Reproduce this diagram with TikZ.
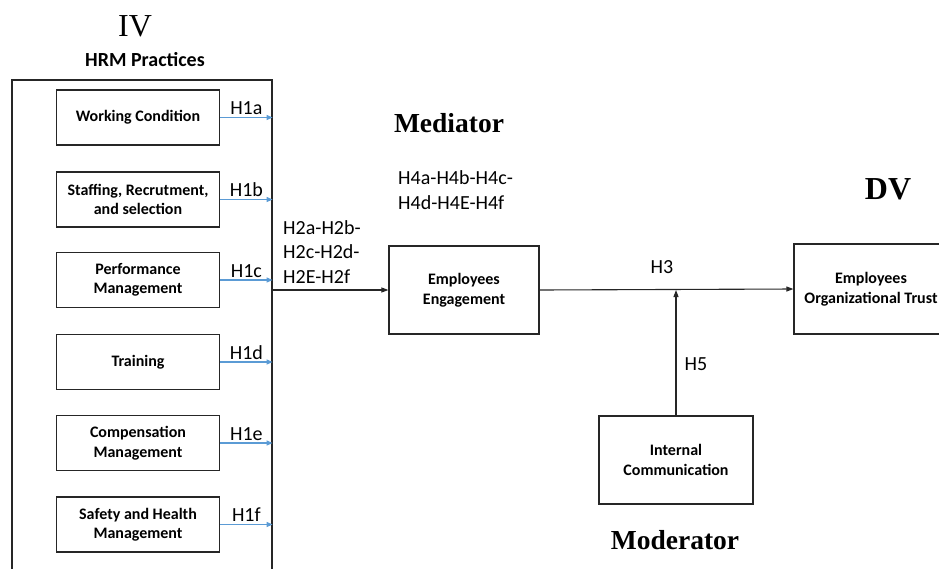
\documentclass[tikz,border=0pt]{standalone}
\usepackage{fontspec}
\setmainfont{Liberation Serif}
\setsansfont{Carlito}
\usepackage{tikz}
\usetikzlibrary{arrows.meta,calc}
\definecolor{arrowblue}{HTML}{5B9BD5}
\newcommand\boxfont{\sffamily\bfseries\fontsize{16}{19.5}\selectfont}
\newcommand\hfont{\sffamily\fontsize{20}{24.5}\selectfont}
\newcommand\titlefont{\rmfamily\bfseries\fontsize{27.5}{30}\selectfont}

\begin{document}
\begin{tikzpicture}[x=1pt,y=-1pt,
  boxnode/.style={draw=black!85,line width=1.2pt,inner sep=0pt,align=center,font=\boxfont},
  hlabel/.style={font=\hfont,inner sep=2pt},
  bluearrow/.style={draw=arrowblue,line width=1.1pt,-{Triangle[length=6pt,width=5pt]}},
  blackarrow/.style={draw=black!85,line width=1.1pt,-{Triangle[length=7pt,width=5pt]}}]
\useasboundingbox (0,0) rectangle (939,568);
\node[font=\rmfamily\fontsize{32}{34}\selectfont] (iv) at (135,26) {IV};
\node[font=\sffamily\bfseries\fontsize{20}{24}\selectfont] (hrmtitle) at (145,60) {HRM Practices};
\node[boxnode,minimum width=260,minimum height=515] (hrm) at (142,337.5) {};
\node[boxnode,minimum width=163,minimum height=55] (wc) at (138,117.5) {Working Condition};
\node[boxnode,minimum width=163,minimum height=55] (staff) at (138,199.5) {Staffing, Recrutment,\\and selection};
\node[boxnode,minimum width=163,minimum height=55] (perf) at (138,280) {Performance\\Management};
\node[boxnode,minimum width=163,minimum height=55] (train) at (138,362) {Training};
\node[boxnode,minimum width=163,minimum height=55] (comp) at (138,443) {Compensation\\Management};
\node[boxnode,minimum width=163,minimum height=55] (safe) at (138,524.5) {Safety and Health\\Management};
\draw[bluearrow] (wc.east) -- node[hlabel,above] {H1a} (wc.east -| hrm.east);
\draw[bluearrow] (staff.east) -- node[hlabel,above] {H1b} (staff.east -| hrm.east);
\draw[bluearrow] (perf.east) -- node[hlabel,above] {H1c} (perf.east -| hrm.east);
\draw[bluearrow] (train.east) -- node[hlabel,above] {H1d} (train.east -| hrm.east);
\draw[bluearrow] (comp.east) -- node[hlabel,above] {H1e} (comp.east -| hrm.east);
\draw[bluearrow] (safe.east) -- node[hlabel,above] {H1f} (safe.east -| hrm.east);

\node[font=\titlefont] (med) at (449,123) {Mediator};
\node[hlabel,anchor=west,align=left,inner sep=0pt] (h4) at (398,190) {H4a-H4b-H4c-\\H4d-H4E-H4f};
\node[boxnode,minimum width=150,minimum height=88] (eng) at (464,290) {Employees\\Engagement};
\node[hlabel,anchor=west,align=left,inner sep=0pt] (h2) at (283,252) {H2a-H2b-\\H2c-H2d-\\H2E-H2f};
\draw[blackarrow] (eng.west -| hrm.east) -- (eng.west);

\node[font=\rmfamily\bfseries\fontsize{32}{34}\selectfont] (dv) at (888,189) {DV};
\node[boxnode,minimum width=154,minimum height=90] (trust) at (871,289) {Employees\\Organizational Trust};
\draw[blackarrow] (eng.east) -- (trust.west);
\node[hlabel] (h3) at (662,267) {H3};

\node[boxnode,minimum width=154,minimum height=88] (ic) at (676,460) {Internal\\Communication};
\draw[blackarrow] (ic.north) -- (ic.north |- eng.east);
\node[hlabel] (h5) at (696,364) {H5};
\node[font=\titlefont] (mod) at (675,540) {Moderator};
\end{tikzpicture}
\end{document}
